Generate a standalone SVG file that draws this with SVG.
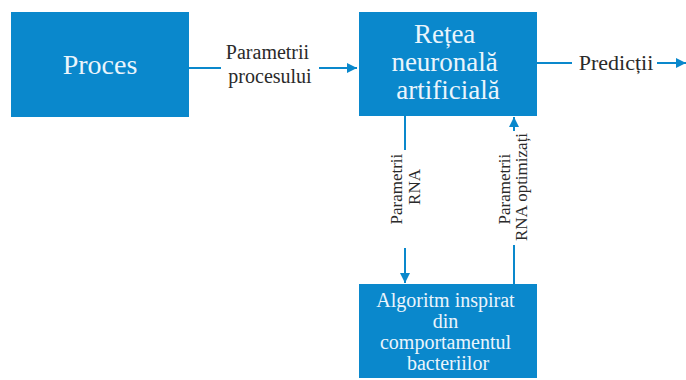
<svg xmlns="http://www.w3.org/2000/svg" width="686" height="380" viewBox="0 0 686 380">
  <style>
    .box { fill: #0a88cc; }
    .in { fill: #eaf5fc; text-anchor: middle; }
    .lbl { fill: #2a2a2a; text-anchor: middle; }
    .wire { stroke: #0a88cc; stroke-width: 2; fill: none; }
  </style>
  <defs>
    <marker id="head" viewBox="0 0 10 10" refX="10" refY="5" markerWidth="10" markerHeight="10" markerUnits="userSpaceOnUse" orient="auto">
      <path d="M0,0 L10,5 L0,10 Z" fill="#0a88cc"/>
    </marker>
  </defs>

  <rect width="686" height="380" fill="#ffffff"/>

  <g font-family="'Liberation Serif', 'DejaVu Serif', serif">
  <g id="proces">
    <rect class="box" x="11" y="12" width="178" height="105"/>
    <text class="in" x="100" y="74" font-size="28">Proces</text>
  </g>

  <g id="retea">
    <rect class="box" x="359" y="12" width="178" height="104"/>
    <text class="in" font-size="27">
      <tspan x="448" y="43">Rețea</tspan>
      <tspan x="448" y="71">neuronală</tspan>
      <tspan x="448" y="99">artificială</tspan>
    </text>
  </g>

  <g id="algoritm">
    <rect class="box" x="359" y="284" width="178" height="94"/>
    <text class="in" font-size="20">
      <tspan x="448" y="307">Algoritm inspirat</tspan>
      <tspan x="448" y="328">din</tspan>
      <tspan x="448" y="349">comportamentul</tspan>
      <tspan x="448" y="370">bacteriilor</tspan>
    </text>
  </g>

  <g id="connectors">
    <!-- process -> network -->
    <line class="wire" x1="189" y1="68" x2="221" y2="68"/>
    <line class="wire" x1="319" y1="68" x2="357" y2="68" marker-end="url(#head)"/>
    <text class="lbl" font-size="20">
      <tspan x="270" y="59">Parametrii</tspan>
      <tspan x="270" y="83">procesului</tspan>
    </text>

    <!-- network -> predictions -->
    <line class="wire" x1="537" y1="63" x2="572" y2="63"/>
    <text class="lbl" x="616" y="70" font-size="22">Predicții</text>
    <line class="wire" x1="657" y1="63" x2="686" y2="63" marker-end="url(#head)"/>

    <!-- network -> optimiser -->
    <line class="wire" x1="405" y1="116" x2="405" y2="150"/>
    <line class="wire" x1="405" y1="248" x2="405" y2="283" marker-end="url(#head)"/>
    <text class="lbl" font-size="17" transform="translate(0,187) rotate(-90)">
      <tspan x="0" y="402">Parametrii</tspan>
      <tspan x="0" y="420">RNA</tspan>
    </text>

    <!-- optimiser -> network -->
    <line class="wire" x1="514" y1="284" x2="514" y2="245"/>
    <line class="wire" x1="514" y1="131" x2="514" y2="117" marker-end="url(#head)"/>
    <text class="lbl" font-size="17" transform="translate(0,187) rotate(-90)">
      <tspan x="0" y="510">Parametrii</tspan>
      <tspan x="0" y="527">RNA optimizați</tspan>
    </text>
  </g>
  </g>
</svg>
